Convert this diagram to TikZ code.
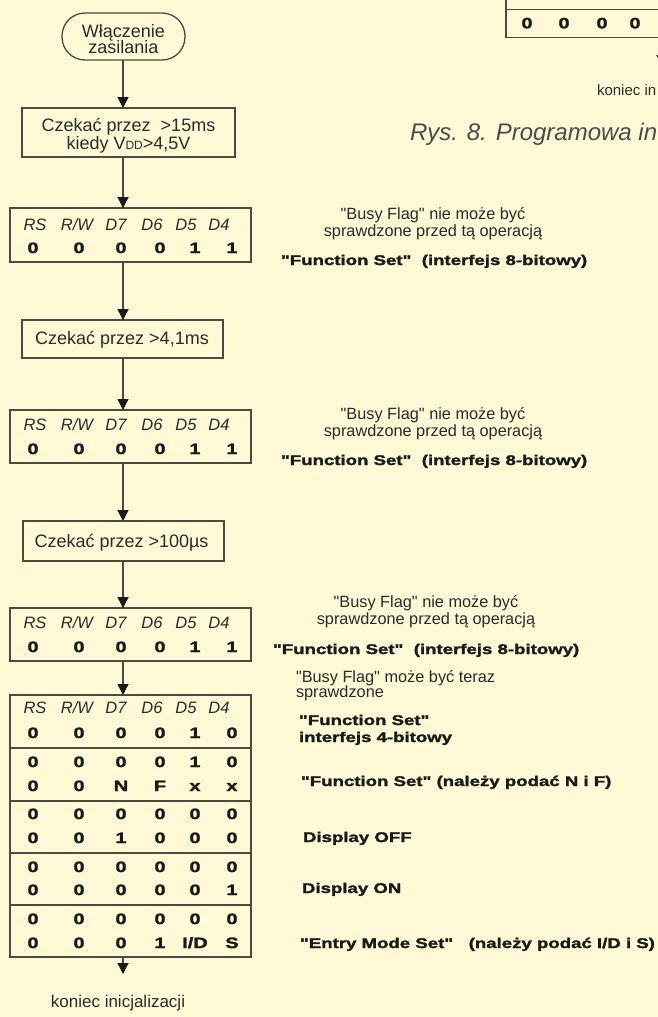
\documentclass[tikz,border=0pt]{standalone}
\usepackage{fontspec}
\setmainfont{Liberation Sans}[Ligatures=TeXOff]
\newfontfamily\heavy{Liberation Sans}[FakeStretch=1.33, FakeBold=1.8]
\usetikzlibrary{arrows.meta}
\definecolor{paper}{HTML}{FFF9D5}
\definecolor{ink}{HTML}{2B2B2B}
\definecolor{rule}{HTML}{4D4A45}
\definecolor{tipc}{HTML}{1A1A1A}

% header row of a bit table: name, baseline
\newcommand\hdrrow[2]{%
  \node[hdr] (#1-h1) at (35,#2) {RS};
  \node[hdr] (#1-h2) at (77,#2) {R/W};
  \node[hdr] (#1-h3) at (116,#2) {D7};
  \node[hdr] (#1-h4) at (152,#2) {D6};
  \node[hdr] (#1-h5) at (186,#2) {D5};
  \node[hdr] (#1-h6) at (219,#2) {D4};}
% one row of bits: name, baseline, six values
\newcommand\bitsrow[8]{%
  \node[bit] (#1-1) at (33,#2) {#3};
  \node[bit] (#1-2) at (79,#2) {#4};
  \node[bit] (#1-3) at (121,#2) {#5};
  \node[bit] (#1-4) at (160,#2) {#6};
  \node[bit] (#1-5) at (195,#2) {#7};
  \node[bit] (#1-6) at (232,#2) {#8};}

\begin{document}
\begin{tikzpicture}[x=1pt,y=-1pt,
  every node/.style={inner sep=0pt, outer sep=0pt, text=ink},
  frame/.style={draw=rule, line width=1.3pt, rectangle},
  term/.style={frame, rounded corners=23pt},
  divider/.style={draw=rule, line width=1.3pt},
  flow/.style={draw=rule, line width=1.3pt, -{Triangle[length=11pt,width=11pt,color=tipc]}},
  boxtxt/.style={font=\fontsize{18}{18}\selectfont, anchor=base},
  note/.style={font=\fontsize{16.3}{17}\selectfont, anchor=base},
  bnote/.style={font=\heavy\bfseries\fontsize{14}{17}\selectfont, text=tipc, anchor=base west},
  hdr/.style={font=\itshape\fontsize{16.5}{16.5}\selectfont, anchor=base},
  bit/.style={font=\heavy\bfseries\fontsize{15}{15}\selectfont, text=tipc, anchor=base},
]
\fill[paper] (0,0) rectangle (658,1017);
\useasboundingbox (0,0) rectangle (658,1017);

\coordinate (axis) at (123,0);

% ---- main flow: frames ----
\node[term, minimum width=123pt, minimum height=47pt] (power) at (123.5,36.5) {};
\node[frame, minimum width=213pt, minimum height=49pt] (wait15) at (128.5,132.5) {};
\node[frame, minimum width=241pt, minimum height=54pt] (fsA) at (130.5,235) {};
\node[frame, minimum width=201pt, minimum height=38pt] (wait41) at (122.5,339) {};
\node[frame, minimum width=241pt, minimum height=53pt] (fsB) at (130.5,436.5) {};
\node[frame, minimum width=201pt, minimum height=40pt] (wait100) at (123.5,541) {};
\node[frame, minimum width=241pt, minimum height=53pt] (fsC) at (130.5,634.5) {};
\node[frame, minimum width=241pt, minimum height=262pt] (seq) at (130.5,826) {};

% dividers of the command sequence
\foreach \yy [count=\k] in {748,801,853,905} {
  \coordinate (dv\k) at (0,\yy);
  \draw[divider] (seq.west |- dv\k) -- (seq.east |- dv\k);
}

% ---- connectors ----
\coordinate (finish) at (123,974);
\draw[flow] (power.south -| axis) -- (wait15.north -| axis);
\draw[flow] (wait15.south -| axis) -- (fsA.north -| axis);
\draw[flow] (fsA.south -| axis) -- (wait41.north -| axis);
\draw[flow] (wait41.south -| axis) -- (fsB.north -| axis);
\draw[flow] (fsB.south -| axis) -- (wait100.north -| axis);
\draw[flow] (wait100.south -| axis) -- (fsC.north -| axis);
\draw[flow] (fsC.south -| axis) -- (seq.north -| axis);
\draw[flow] (seq.south -| axis) -- (finish);

% ---- box texts ----
\node[boxtxt] (pw1) at (123.5,37) {Włączenie};
\node[boxtxt] (pw2) at (123.5,53) {zasilania};
\node[boxtxt] (w15a) at (128.5,131.5) {Czekać przez~~>15ms};
\node[boxtxt] (w15b) at (128.5,149.5) {kiedy V{\fontsize{12}{12}\selectfont DD}>4,5V};
\node[boxtxt] (w41) at (122,344) {Czekać przez >4,1ms};
\node[boxtxt] (w100) at (121.5,547.5) {Czekać przez >100µs};

% ---- bit tables ----
\hdrrow{ah}{230.5}
\bitsrow{av}{253}{0}{0}{0}{0}{1}{1}
\hdrrow{bh}{430.5}
\bitsrow{bv}{454}{0}{0}{0}{0}{1}{1}
\hdrrow{ch}{628.5}
\bitsrow{cv}{652}{0}{0}{0}{0}{1}{1}
\hdrrow{sh}{713.5}
\bitsrow{s1}{738}{0}{0}{0}{0}{1}{0}
\bitsrow{s2}{767}{0}{0}{0}{0}{1}{0}
\bitsrow{s3}{791}{0}{0}{N}{F}{x}{x}
\bitsrow{s4}{819}{0}{0}{0}{0}{0}{0}
\bitsrow{s5}{843}{0}{0}{1}{0}{0}{0}
\bitsrow{s6}{872}{0}{0}{0}{0}{0}{0}
\bitsrow{s7}{895}{0}{0}{0}{0}{0}{1}
\bitsrow{s8}{924}{0}{0}{0}{0}{0}{0}
\bitsrow{s9}{948}{0}{0}{0}{1}{I/D}{S}

% ---- side notes ----
\node[note] (na1) at (433,219.5) {"Busy Flag" nie może być};
\node[note] (na2) at (433,236.5) {sprawdzone przed tą operacją};
\node[bnote] (na3) at (281,265) {"Function Set"~~(interfejs 8-bitowy)};
\node[note] (nb1) at (433,419.5) {"Busy Flag" nie może być};
\node[note] (nb2) at (433,436.5) {sprawdzone przed tą operacją};
\node[bnote] (nb3) at (281,465) {"Function Set"~~(interfejs 8-bitowy)};
\node[note] (nc1) at (426,607) {"Busy Flag" nie może być};
\node[note] (nc2) at (426,624.5) {sprawdzone przed tą operacją};
\node[bnote] (nc3) at (273,654) {"Function Set"~~(interfejs 8-bitowy)};
\node[note, anchor=base west] (ns1) at (296,682) {"Busy Flag" może być teraz};
\node[note, anchor=base west] (ns2) at (296,697) {sprawdzone};
\node[bnote] (ns3) at (299,725) {"Function Set"};
\node[bnote] (ns4) at (299,742) {interfejs 4-bitowy};
\node[bnote] (ns5) at (301,786) {"Function Set" (należy podać N i F)};
\node[bnote] (ns6) at (303,842) {Display OFF};
\node[bnote] (ns7) at (302,893) {Display ON};
\node[bnote] (ns8) at (300,948) {"Entry Mode Set"~~~(należy podać I/D i S)};

\node[font=\fontsize{17}{17}\selectfont, anchor=base] (done) at (118,1007) {koniec inicjalizacji};

% ---- neighbouring figure at the upper right ----
\node[frame, minimum width=220pt, minimum height=100pt, anchor=south west] (prev) at (506,37.7) {};
\coordinate (pdv) at (0,9.3);
\draw[divider] (prev.west |- pdv) -- (prev.east |- pdv);
\node[bit] (p1) at (527,28.3) {0};
\node[bit] (p2) at (564,28.3) {0};
\node[bit] (p3) at (602,28.3) {0};
\node[bit] (p4) at (635,28.3) {0};
\coordinate (prevtip) at (662,66);
\draw[flow] (prev.south -| prevtip) -- (prevtip);
\node[font=\fontsize{15}{15}\selectfont, anchor=base west] (prevend) at (597,95) {koniec in};
\node[font=\itshape\fontsize{24}{24}\selectfont, text=ink!85, anchor=base west] (caption) at (410,140) {Rys. 8. Programowa in};
\end{tikzpicture}
\end{document}
